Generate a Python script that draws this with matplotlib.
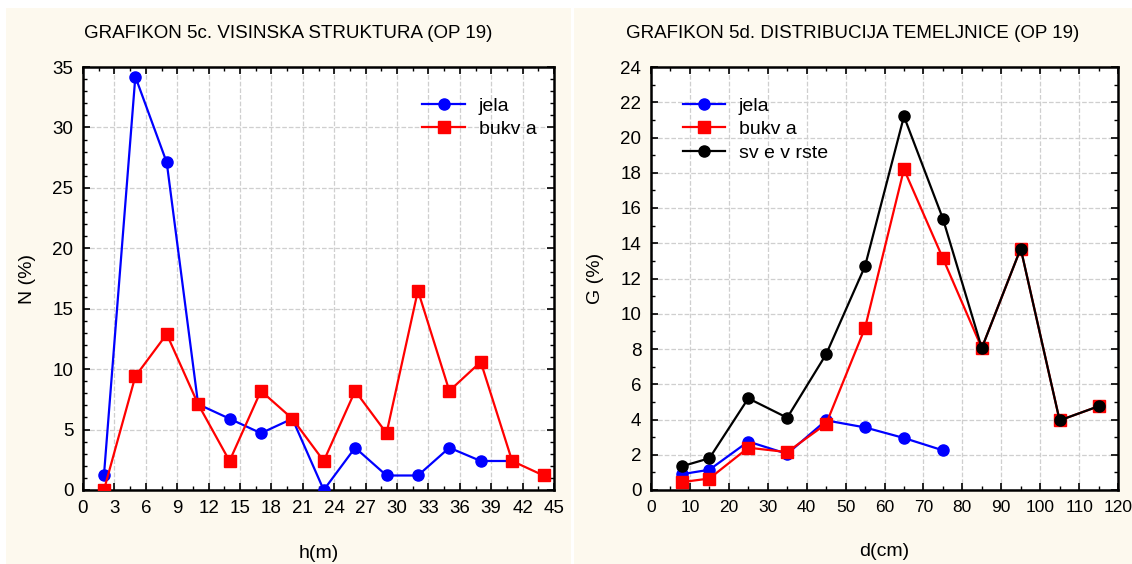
import numpy as np
import matplotlib
matplotlib.use("Agg")
import matplotlib.pyplot as plt
from matplotlib.patches import Rectangle
from matplotlib.ticker import MultipleLocator

plt.rcParams['font.family'] = ['Liberation Sans', 'DejaVu Sans']

# Grafikon 5c - visinska struktura
h = [2, 5, 8, 11, 14, 17, 20, 23, 26, 29, 32, 35, 38, 41, 44]
jela_n = [1.2, 34.2, 27.1, 7.1, 5.9, 4.7, 5.9, 0.0, 3.5, 1.2, 1.2, 3.5, 2.4, 2.4]
bukva_n = [0.0, 9.4, 12.9, 7.1, 2.4, 8.2, 5.9, 2.4, 8.2, 4.7, 16.5, 8.2, 10.6, 2.4, 1.2]

# Grafikon 5d - distribucija temeljnice
d = [8, 15, 25, 35, 45, 55, 65, 75, 85, 95, 105, 115]
jela_g = [0.9, 1.15, 2.75, 2.05, 3.95, 3.55, 2.95, 2.25]
bukva_g = [0.45, 0.65, 2.4, 2.15, 3.75, 9.2, 18.2, 13.15, 8.05, 13.7, 3.95, 4.75]
sve_g = [1.35, 1.8, 5.2, 4.1, 7.7, 12.7, 21.2, 15.4, 8.05, 13.7, 3.95, 4.75]

W, H = 1132, 564
fig = plt.figure(figsize=(W / 100, H / 100), dpi=100)
fig.patch.set_facecolor('white')
cream = '#fdf9ee'

# panel backgrounds
fig.patches.append(Rectangle((6 / W, 0), 565 / W, 1 - 8 / H, transform=fig.transFigure,
                             facecolor=cream, edgecolor='none', zorder=-10))
fig.patches.append(Rectangle((574 / W, 0), 558 / W, 1 - 8 / H, transform=fig.transFigure,
                             facecolor=cream, edgecolor='none', zorder=-10))

ax1 = fig.add_axes([83 / W, 1 - 490 / H, 471 / W, 423 / H])
ax2 = fig.add_axes([651 / W, 1 - 490 / H, 467 / W, 423 / H])


def style(ax):
    ax.set_facecolor('white')
    ax.grid(True, which='major', linestyle='--', color='#cfcfcf', linewidth=0.9)
    ax.set_axisbelow(True)
    for s in ax.spines.values():
        s.set_linewidth(1.8)
        s.set_color('black')
    ax.tick_params(which='both', direction='in', top=True, right=True, labelsize=13.5)
    ax.tick_params(which='major', length=5, width=1.2, pad=7)
    ax.tick_params(which='minor', length=3, width=1.0)


style(ax1)
ax1.plot(h[:len(jela_n)], jela_n, color='blue', lw=1.6, marker='o', ms=8, label='jela', zorder=3)
ax1.plot(h, bukva_n, color='red', lw=1.6, marker='s', ms=8, label='bukv a', zorder=3)
ax1.set_xlim(0, 45)
ax1.set_ylim(0, 35)
ax1.xaxis.set_major_locator(MultipleLocator(3))
ax1.xaxis.set_minor_locator(MultipleLocator(1.5))
ax1.yaxis.set_major_locator(MultipleLocator(5))
ax1.yaxis.set_minor_locator(MultipleLocator(1))
ax1.set_xlabel('h(m)', fontsize=14, labelpad=20)
ax1.set_ylabel('N (%)', fontsize=14, labelpad=12)
ax1.legend(loc='upper right', bbox_to_anchor=(1.0, 0.97), frameon=False, fontsize=14,
           handlelength=2.2, handletextpad=0.7, labelspacing=0.3)
fig.text(288 / W, 1 - 33 / H, 'GRAFIKON 5c. VISINSKA STRUKTURA (OP 19)', ha='center', va='center', fontsize=13.5)

style(ax2)
ax2.tick_params(axis='x', labelsize=12.5)
ax2.plot(d[:len(jela_g)], jela_g, color='blue', lw=1.6, marker='o', ms=8, label='jela', zorder=3)
ax2.plot(d, bukva_g, color='red', lw=1.6, marker='s', ms=8, label='bukv a', zorder=3)
ax2.plot(d, sve_g, color='black', lw=1.6, marker='o', ms=8, label='sv e v rste', zorder=4)
ax2.set_xlim(0, 120)
ax2.set_ylim(0, 24)
ax2.xaxis.set_major_locator(MultipleLocator(10))
ax2.xaxis.set_minor_locator(MultipleLocator(5))
ax2.yaxis.set_major_locator(MultipleLocator(2))
ax2.yaxis.set_minor_locator(MultipleLocator(1))
ax2.set_xlabel('d(cm)', fontsize=14, labelpad=20)
ax2.set_ylabel('G (%)', fontsize=14, labelpad=12)
ax2.legend(loc='upper left', bbox_to_anchor=(0.03, 0.97), frameon=False, fontsize=14,
           handlelength=2.2, handletextpad=0.7, labelspacing=0.3)
fig.text(853 / W, 1 - 33 / H, 'GRAFIKON 5d. DISTRIBUCIJA TEMELJNICE (OP 19)', ha='center', va='center', fontsize=13.5)

fig.savefig('out.png', dpi=100)
